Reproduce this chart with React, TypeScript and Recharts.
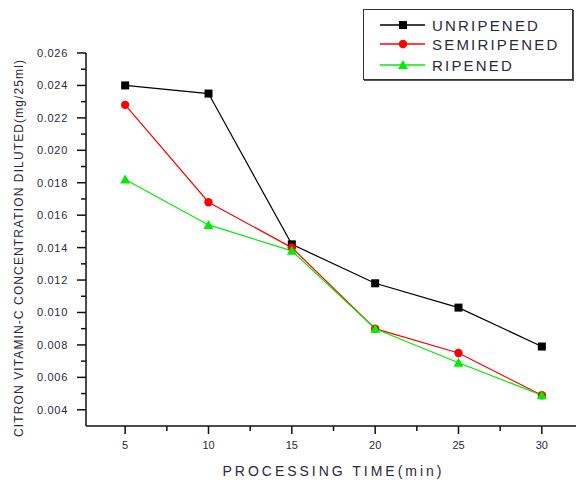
import React from "react";
import { LineChart, Line, XAxis, YAxis } from "recharts";

const times = [5, 10, 15, 20, 25, 30];
const unripened = [0.024, 0.0235, 0.0142, 0.0118, 0.0103, 0.0079];
const semiripened = [0.0228, 0.0168, 0.0140, 0.0090, 0.0075, 0.0049];
const ripened = [0.0182, 0.0154, 0.0138, 0.0090, 0.0069, 0.0049];

const xTicks = [5, 7.5, 10, 12.5, 15, 17.5, 20, 22.5, 25, 27.5, 30];
const yTicks = [
  0.004, 0.005, 0.006, 0.007, 0.008, 0.009, 0.01, 0.011, 0.012, 0.013, 0.014,
  0.015, 0.016, 0.017, 0.018, 0.019, 0.02, 0.021, 0.022, 0.023, 0.024, 0.025, 0.026,
];

const seriesNames = ["UNRIPENED", "SEMIRIPENED", "RIPENED"];
const seriesColors = ["#000000", "#ff0000", "#00ee00"];
const xTitle = "PROCESSING TIME(min)";
const yTitle = "CITRON VITAMIN-C CONCENTRATION DILUTED(mg/25ml)";

const data = times.map((t, i) => ({
  t,
  u: unripened[i],
  s: semiripened[i],
  r: ripened[i],
}));

const FONT = "'Liberation Sans', Arial, sans-serif";
const TEXT = "#2a2a3a";

const SquareDot = (p: any) => {
  if (p.cx == null || p.cy == null) return null;
  return <rect x={p.cx - 4} y={p.cy - 4} width={8} height={8} fill="#000" />;
};
const CircleDot = (p: any) => {
  if (p.cx == null || p.cy == null) return null;
  return <circle cx={p.cx} cy={p.cy} r={4.2} fill="#ff0000" />;
};
const TriDot = (p: any) => {
  if (p.cx == null || p.cy == null) return null;
  return (
    <polygon
      points={`${p.cx},${p.cy - 5} ${p.cx - 5},${p.cy + 4} ${p.cx + 5},${p.cy + 4}`}
      fill="#00ee00"
    />
  );
};

const YTick = (p: any) => {
  const v = p.payload.value;
  const major = Math.round(v * 1000) % 2 === 0;
  const len = major ? 9 : 5;
  return (
    <g>
      <line x1={p.x - len} x2={p.x} y1={p.y} y2={p.y} stroke="#111" strokeWidth={1.5} />
      {major && (
        <text
          x={p.x - 18}
          y={p.y}
          dy={4}
          textAnchor="end"
          fontSize={11}
          letterSpacing={0.7}
          fontFamily={FONT}
          fill={TEXT}
        >
          {v.toFixed(3)}
        </text>
      )}
    </g>
  );
};

const XTick = (p: any) => {
  const v = p.payload.value;
  const major = v % 5 === 0;
  const len = major ? 8 : 5;
  return (
    <g>
      <line x1={p.x} x2={p.x} y1={p.y} y2={p.y + len} stroke="#111" strokeWidth={1.5} />
      {major && (
        <text
          x={p.x}
          y={p.y + 23}
          textAnchor="middle"
          fontSize={11}
          fontFamily={FONT}
          fill={TEXT}
        >
          {v}
        </text>
      )}
    </g>
  );
};

const XTitle = () => (
  <text
    x={332}
    y={476}
    textAnchor="middle"
    fontSize={14}
    fontFamily={FONT}
    fill={TEXT}
    textLength={219}
    lengthAdjust="spacing"
  >
    {xTitle}
  </text>
);

const YTitle = () => (
  <text
    x={0}
    y={0}
    transform="translate(23, 437) rotate(-90)"
    textAnchor="start"
    fontSize={12}
    fontFamily={FONT}
    fill={TEXT}
    textLength={377}
    lengthAdjust="spacing"
  >
    {yTitle}
  </text>
);

const LegendBox = () => (
  <div
    style={{
      position: "absolute",
      left: 363,
      top: 9,
      width: 210,
      height: 71,
      border: "1px solid #333",
      boxShadow: "1px 1px 0 #555",
      background: "#fff",
      boxSizing: "border-box",
      fontFamily: FONT,
      fontSize: 15,
      letterSpacing: 2.2,
      color: TEXT,
    }}
  >
    {seriesNames.map((n, i) => (
      <div
        key={n}
        style={{
          position: "absolute",
          left: 0,
          top: [15, 34, 55][i] - 9,
          height: 18,
          display: "flex",
          alignItems: "center",
        }}
      >
        <svg width={68} height={14} style={{ marginLeft: 16 }}>
          <line x1={0} x2={45} y1={7} y2={7} stroke={seriesColors[i]} strokeWidth={1.5} />
          {i === 0 && <rect x={19} y={3} width={8} height={8} fill="#000" />}
          {i === 1 && <circle cx={23} cy={7} r={4.2} fill="#ff0000" />}
          {i === 2 && <polygon points="23,2 18,11 28,11" fill="#00ee00" />}
        </svg>
        <span style={{ marginLeft: -16 }}>{n}</span>
      </div>
    ))}
  </div>
);

export default function App() {
  return (
    <div style={{ position: "absolute", left: 0, top: 0, width: 576, height: 484, background: "#fff" }}>
      <LineChart
        width={576}
        height={484}
        data={data}
        margin={{ top: 53, right: 0, bottom: 0, left: 0 }}
      >
        <XAxis
          dataKey="t"
          type="number"
          domain={[2.65, 32.05]}
          ticks={xTicks}
          interval={0}
          allowDataOverflow
          height={58}
          tickSize={0}
          tickMargin={0}
          tickLine={false}
          tick={<XTick />}
          axisLine={{ stroke: "#111", strokeWidth: 1.5 }}
          label={{ content: <XTitle /> }}
        />
        <YAxis
          type="number"
          domain={[0.003, 0.026]}
          ticks={yTicks}
          interval={0}
          allowDataOverflow
          width={86}
          tickSize={0}
          tickMargin={0}
          tickLine={false}
          tick={<YTick />}
          axisLine={{ stroke: "#111", strokeWidth: 1.5 }}
          label={{ content: <YTitle /> }}
        />
        <Line
          dataKey="u"
          name={seriesNames[0]}
          stroke={seriesColors[0]}
          strokeWidth={1.2}
          dot={<SquareDot />}
          isAnimationActive={false}
        />
        <Line
          dataKey="s"
          name={seriesNames[1]}
          stroke={seriesColors[1]}
          strokeWidth={1.2}
          dot={<CircleDot />}
          isAnimationActive={false}
        />
        <Line
          dataKey="r"
          name={seriesNames[2]}
          stroke={seriesColors[2]}
          strokeWidth={1.2}
          dot={<TriDot />}
          isAnimationActive={false}
        />
      </LineChart>
      <LegendBox />
    </div>
  );
}
